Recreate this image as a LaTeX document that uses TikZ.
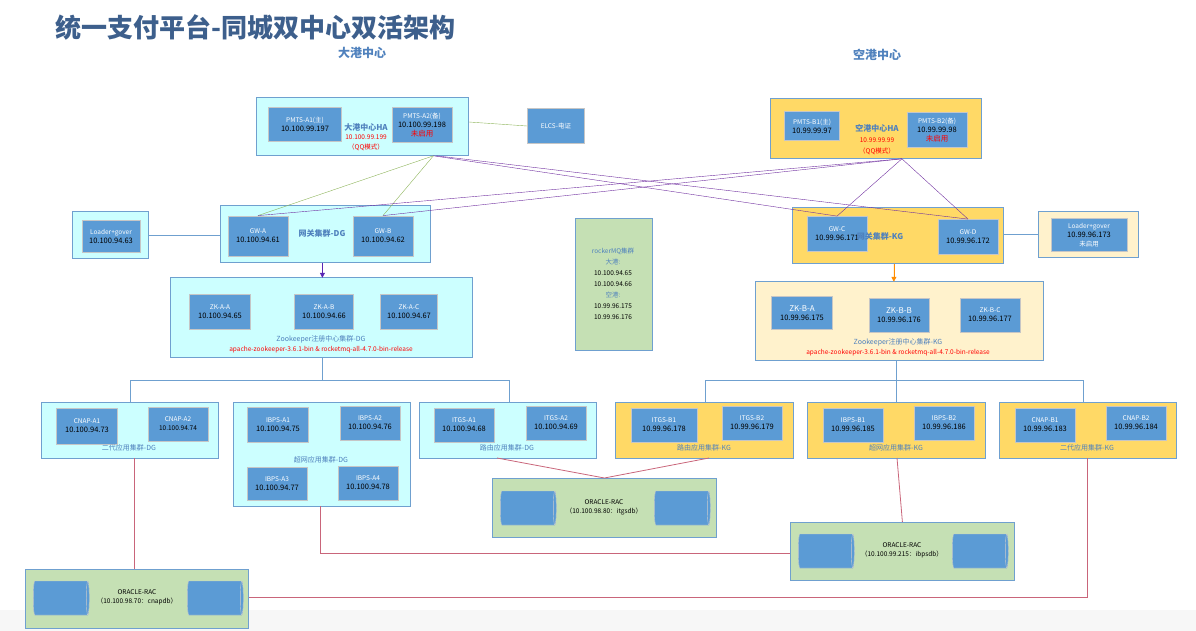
\documentclass[tikz,border=0pt]{standalone}
\usepackage{fontspec}
\setmainfont{Noto Sans CJK SC}
\usetikzlibrary{shapes.geometric,arrows.meta,positioning}
\definecolor{srvblue}{HTML}{5B9BD5}
\definecolor{cyanbg}{HTML}{CCFFFF}
\definecolor{goldbg}{HTML}{FFD966}
\definecolor{creambg}{HTML}{FFF2CC}
\definecolor{greenbg}{HTML}{C5E0B4}
\definecolor{edgeblue}{HTML}{6FA0CF}
\definecolor{titleblue}{HTML}{3D5F8C}
\definecolor{lblblue}{HTML}{4F81BD}
\definecolor{dbline}{HTML}{C9657A}
\definecolor{gwpurple}{HTML}{7030A0}
\definecolor{hagreen}{HTML}{8DB45A}
\newcommand{\nm}[1]{{\color{white}\fontsize{6.5}{8}\selectfont #1}}
\begin{document}
\begin{tikzpicture}[x=1pt, y=-1pt,
    grp/.style={draw=edgeblue, thick, anchor=north west, inner sep=0pt},
    srv/.style={draw=gray!45, thick, fill=srvblue, minimum width=60pt, minimum height=35pt,
        align=center, inner sep=1pt, font=\fontsize{7.5}{9}\selectfont},
    lbl/.style={text=lblblue, font=\fontsize{7}{8}\selectfont, align=center},
    red/.style={text=red, font=\fontsize{6.5}{8}\selectfont, align=center},
    db/.style={cylinder, draw=gray!40, fill=srvblue, cylinder uses custom fill,
        cylinder body fill=srvblue, cylinder end fill=srvblue!85,
        shape aspect=0.45, minimum width=34pt, minimum height=56pt},
    link/.style={draw=edgeblue, thick},
    dbl/.style={draw=dbline, thick},
    arrow/.style={-{Triangle[length=5pt,width=5pt]}, thick}
]
    \useasboundingbox (0,0) rectangle (1196,631);
    \fill[gray!6] (0,610) rectangle (1196,631);
    \node[text=titleblue, font=\bfseries\fontsize{26}{28}\selectfont, anchor=west] (title) at (52,27) {统一支付平台-同城双中心双活架构};
    \node[text=lblblue, font=\bfseries\fontsize{12}{14}\selectfont] (dgname) at (362,53) {大港中心};
    \node[text=lblblue, font=\bfseries\fontsize{12}{14}\selectfont] (kgname) at (877,55) {空港中心};

    % PMTS HA
    \node[grp, fill=cyanbg, minimum width=212pt, minimum height=58pt] (pmtsa) at (256,97) {};
    \node[srv, minimum width=73pt, minimum height=34pt] (pmtsa1) at (305,124) {\nm{PMTS-A1(主)}\\10.100.99.197};
    \node[srv, minimum width=60pt] (pmtsa2) at (422,125) {\nm{PMTS-A2(备)}\\10.100.99.198\\{\color{red}未启用}};
    \node[lbl, font=\bfseries\fontsize{8}{9}\selectfont] (hadg) at (366,127) {大港中心HA};
    \node[red] at (366,137) {10.100.99.199};
    \node[red] at (366,147) {（QQ模式）};
    \node[srv, minimum width=57pt] (elcs) at (556,126) {\nm{ELCS-电证}};

    \node[grp, fill=goldbg, minimum width=211pt, minimum height=60pt] (pmtsb) at (770,98) {};
    \node[srv, minimum width=55pt, minimum height=29pt] (pmtsb1) at (812,126) {\nm{PMTS-B1(主)}\\10.99.99.97};
    \node[srv, minimum width=60pt] (pmtsb2) at (937,130) {\nm{PMTS-B2(备)}\\10.99.99.98\\{\color{red}未启用}};
    \node[lbl, font=\bfseries\fontsize{8}{9}\selectfont] (hakg) at (877,128) {空港中心HA};
    \node[red] at (877,140) {10.99.99.99};
    \node[red] at (877,151) {（QQ模式）};

    % gateways
    \node[grp, fill=cyanbg, minimum width=76pt, minimum height=47pt] (loaderdg) at (72,211) {};
    \node[srv, minimum width=58pt, minimum height=32pt] (ldg) at (111,236) {\nm{Loader+gover}\\10.100.94.63};
    \node[grp, fill=cyanbg, minimum width=210pt, minimum height=57pt] (gwdg) at (220,205) {};
    \node[srv, minimum height=40pt] (gwa) at (258,236) {\nm{GW-A}\\10.100.94.61};
    \node[srv, minimum height=40pt] (gwb) at (383,236) {\nm{GW-B}\\10.100.94.62};
    \node[lbl, font=\bfseries\fontsize{8}{9}\selectfont] at (322,233) {网关集群-DG};

    \node[grp, fill=goldbg, minimum width=211pt, minimum height=56pt] (gwkg) at (792,207) {};
    \node[srv] (gwc) at (837,234) {\nm{GW-C}\\10.99.96.171};
    \node[srv] (gwd) at (968,237) {\nm{GW-D}\\10.99.96.172};
    \node[lbl, font=\bfseries\fontsize{8}{9}\selectfont] at (880,236) {网关集群-KG};
    \node[grp, fill=creambg, minimum width=100pt, minimum height=46pt] (loaderkg) at (1038,211) {};
    \node[srv, minimum width=76pt, minimum height=33pt] (lkg) at (1089,235) {\nm{Loader+gover}\\10.99.96.173\\\nm{未启用}};

    \node[grp, fill=greenbg, minimum width=77pt, minimum height=132pt] (mq) at (575,218) {};
    \node[font=\fontsize{6.5}{11}\selectfont, align=center] (mqtxt) at (613,284) {{\color{lblblue}rockerMQ集群}\\{\color{lblblue}大港:}\\10.100.94.65\\10.100.94.66\\{\color{lblblue}空港:}\\10.99.96.175\\10.99.96.176};

    % zookeeper
    \node[grp, fill=cyanbg, minimum width=302pt, minimum height=80pt] (zkdg) at (170,277) {};
    \node[srv, minimum width=61pt] (zkaa) at (220,312) {\nm{ZK-A-A}\\10.100.94.65};
    \node[srv, minimum width=59pt] (zkab) at (324,312) {\nm{ZK-A-B}\\10.100.94.66};
    \node[srv, minimum width=57pt] (zkac) at (409,312) {\nm{ZK-A-C}\\10.100.94.67};
    \node[lbl] at (321,339) {Zookeeper注册中心集群-DG};
    \node[red] at (321,350) {apache-zookeeper-3.6.1-bin \& rocketmq-all-4.7.0-bin-release};

    \node[grp, fill=creambg, minimum width=288pt, minimum height=79pt] (zkkg) at (755,281) {};
    \node[srv, minimum width=61pt, minimum height=33pt] (zkba) at (802,313) {\nm{\fontsize{8}{9}\selectfont ZK-B-A}\\10.99.96.175};
    \node[srv, minimum height=34pt] (zkbb) at (899,315) {\nm{\fontsize{8}{9}\selectfont ZK-B-B}\\10.99.96.176};
    \node[srv, minimum height=34pt] (zkbc) at (990,315) {\nm{ZK-B-C}\\10.99.96.177};
    \node[lbl] at (898,342) {Zookeeper注册中心集群-KG};
    \node[red] at (898,353) {apache-zookeeper-3.6.1-bin \& rocketmq-all-4.7.0-bin-release};

    % application clusters DG
    \node[grp, fill=cyanbg, minimum width=177pt, minimum height=56pt] (cnapdg) at (41,402) {};
    \node[srv, minimum width=61pt, minimum height=36pt] (cnapa1) at (87,426) {\nm{CNAP-A1}\\10.100.94.73};
    \node[srv, minimum height=34pt] (cnapa2) at (178,424) {\nm{CNAP-A2}\\{\fontsize{6.5}{8}\selectfont 10.100.94.74}};
    \node[lbl] at (129,448) {二代应用集群-DG};

    \node[grp, fill=cyanbg, minimum width=177pt, minimum height=104pt] (ibpsdg) at (233,402) {};
    \node[srv, minimum width=61pt] (ibpsa1) at (278,425) {\nm{IBPS-A1}\\10.100.94.75};
    \node[srv, minimum height=34pt] (ibpsa2) at (370,423) {\nm{IBPS-A2}\\10.100.94.76};
    \node[lbl] at (321,460) {超网应用集群-DG};
    \node[srv, minimum height=33pt] (ibpsa3) at (277,484) {\nm{IBPS-A3}\\10.100.94.77};
    \node[srv, minimum height=34pt] (ibpsa4) at (368,483) {\nm{IBPS-A4}\\10.100.94.78};

    \node[grp, fill=cyanbg, minimum width=177pt, minimum height=56pt] (itgsdg) at (419,402) {};
    \node[srv, minimum height=34pt] (itgsa1) at (464,425) {\nm{ITGS-A1}\\10.100.94.68};
    \node[srv, minimum height=34pt] (itgsa2) at (556,423) {\nm{ITGS-A2}\\10.100.94.69};
    \node[lbl] at (507,448) {路由应用集群-DG};

    % application clusters KG
    \node[grp, fill=goldbg, minimum width=178pt, minimum height=56pt] (itgskg) at (615,402) {};
    \node[srv, minimum width=66pt, minimum height=34pt] (itgsb1) at (664,425) {\nm{ITGS-B1}\\10.99.96.178};
    \node[srv, minimum height=34pt] (itgsb2) at (752,423) {\nm{ITGS-B2}\\10.99.96.179};
    \node[lbl] at (704,448) {路由应用集群-KG};

    \node[grp, fill=goldbg, minimum width=178pt, minimum height=56pt] (ibpskg) at (807,402) {};
    \node[srv, minimum height=34pt] (ibpsb1) at (853,425) {\nm{IBPS-B1}\\10.99.96.185};
    \node[srv, minimum height=34pt] (ibpsb2) at (944,423) {\nm{IBPS-B2}\\10.99.96.186};
    \node[lbl] at (896,448) {超网应用集群-KG};

    \node[grp, fill=goldbg, minimum width=177pt, minimum height=56pt] (cnapkg) at (999,402) {};
    \node[srv, minimum height=34pt] (cnapb1) at (1045,425) {\nm{CNAP-B1}\\10.99.96.183};
    \node[srv, minimum height=34pt] (cnapb2) at (1136,423) {\nm{CNAP-B2}\\10.99.96.184};
    \node[lbl] at (1087,448) {二代应用集群-KG};

    % oracle
    \node[grp, fill=greenbg, minimum width=224pt, minimum height=59pt] (oraitgs) at (492,478) {};
    \node[db] at (527,508) {};
    \node[db] at (681,508) {};
    \node[font=\fontsize{6.5}{9}\selectfont, align=center] at (604,507) {ORACLE-RAC\\（10.100.98.80：itgsdb）};
    \node[grp, fill=greenbg, minimum width=224pt, minimum height=58pt] (oraibps) at (790,522) {};
    \node[db] at (825,551) {};
    \node[db] at (979,551) {};
    \node[font=\fontsize{6.5}{9}\selectfont, align=center] at (902,550) {ORACLE-RAC\\（10.100.99.215：ibpsdb）};
    \node[grp, fill=greenbg, minimum width=223pt, minimum height=59pt] (oracnap) at (25,569) {};
    \node[db] at (60,598) {};
    \node[db] at (214,598) {};
    \node[font=\fontsize{6.5}{9}\selectfont, align=center] at (137,597) {ORACLE-RAC\\（10.100.98.70：cnapdb）};

    % HA to gateway links
    \draw[hagreen] (pmtsa.east |- 0,122) -- (elcs.west);
    \draw[hagreen] (pmtsa.south) ++(71,0) coordinate (pa) -- (gwa.north);
    \draw[hagreen] (pa) -- (gwb.north);
    \draw[gwpurple] (pa) -- (gwc.north);
    \draw[gwpurple] ([xshift=3pt]pa) -- (gwd.north);
    \draw[gwpurple] (pmtsb.south) ++(26,0) coordinate (pb) -- (gwa.north);
    \draw[gwpurple] (pb) -- (gwb.north);
    \draw[gwpurple] (pb) -- (gwc.north);
    \draw[gwpurple] (pb) -- (gwd.north);
    \draw[link] (loaderdg.east |- 0,235) -- (gwdg.west |- 0,235);
    \draw[link] (gwkg.east |- 0,234) -- (loaderkg.west |- 0,234);
    \draw[arrow, draw=gwpurple!80!blue, fill=gwpurple!80!blue] (gwdg.south) ++(-3,0) -- ++(0,15);
    \draw[arrow, draw=orange!90!yellow, fill=orange!90!yellow] (gwkg.south) ++(-4,0) -- ++(0,18);

    % zookeeper to application clusters
    \draw[link] (zkdg.south) ++(1,0) -- ++(0,23) coordinate (tdg);
    \draw[link] (130,380) -- (509,380);
    \draw[link] (130,380) -- (130,402);
    \draw[link] (509,380) -- (509,402);
    \draw[link] (zkkg.south) ++(-3,0) -- ++(0,41);
    \draw[link] (705,380) -- (1083,380);
    \draw[link] (705,380) -- (705,402);
    \draw[link] (1083,380) -- (1083,402);

    % application clusters to oracle
    \draw[dbl] (497,458) -- (oraitgs.north);
    \draw[dbl] (709,458) -- (oraitgs.north);
    \draw[dbl] (134,458) -- (134,569);
    \draw[dbl] (320,506) -- (320,553) -- (oraibps.west |- 0,553);
    \draw[dbl] (897,458) -- (oraibps.north);
    \draw[dbl] (1087,458) -- (1087,597) -- (oracnap.east |- 0,597);
\end{tikzpicture}
\end{document}
